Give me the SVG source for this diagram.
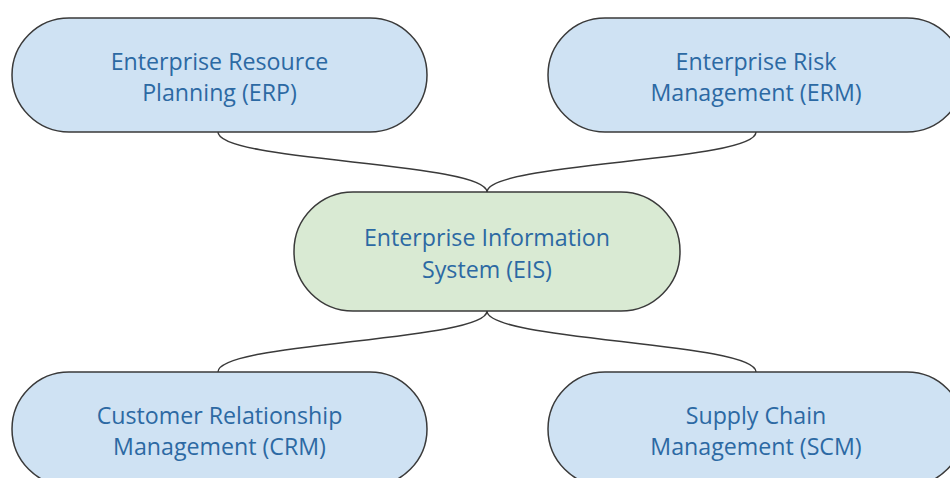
<svg xmlns="http://www.w3.org/2000/svg" width="950" height="478" viewBox="0 0 950 478">
  <style>
    .pill { stroke: #3a3a3a; stroke-width: 1.5; }
    .blue { fill: #cfe2f3; }
    .green { fill: #d9ead3; }
    .label { font-family: "Open Sans", "Noto Sans", sans-serif; font-size: 23.2px; fill: #2c69a3; text-anchor: middle; }
    .link { fill: none; stroke: #3a3a3a; stroke-width: 1.5; }
  </style>
  <rect width="950" height="478" fill="#ffffff"/>

  <g id="connectors">
    <path class="link" d="M218,132 C218,162 487,162 487,192"/>
    <path class="link" d="M756,132 C756,162 487,162 487,192"/>
    <path class="link" d="M487,311 C487,341 218,342 218,372"/>
    <path class="link" d="M487,311 C487,341 756,342 756,372"/>
  </g>

  <g id="erp">
    <rect class="pill blue" x="12" y="18" width="415" height="114" rx="57" ry="57"/>
    <text class="label" x="219.5" y="70">Enterprise Resource</text>
    <text class="label" x="219.5" y="101">Planning (ERP)</text>
  </g>

  <g id="erm">
    <rect class="pill blue" x="548" y="18" width="416" height="114" rx="57" ry="57"/>
    <text class="label" x="756" y="70">Enterprise Risk</text>
    <text class="label" x="756" y="101">Management (ERM)</text>
  </g>

  <g id="eis">
    <rect class="pill green" x="294" y="192" width="386" height="119" rx="59" ry="59"/>
    <text class="label" x="487" y="246">Enterprise Information</text>
    <text class="label" x="487" y="278">System (EIS)</text>
  </g>

  <g id="crm">
    <rect class="pill blue" x="12" y="372" width="415" height="114" rx="57" ry="57"/>
    <text class="label" x="219.5" y="424">Customer Relationship</text>
    <text class="label" x="219.5" y="455">Management (CRM)</text>
  </g>

  <g id="scm">
    <rect class="pill blue" x="548" y="372" width="416" height="114" rx="57" ry="57"/>
    <text class="label" x="756" y="424">Supply Chain</text>
    <text class="label" x="756" y="455">Management (SCM)</text>
  </g>
</svg>
